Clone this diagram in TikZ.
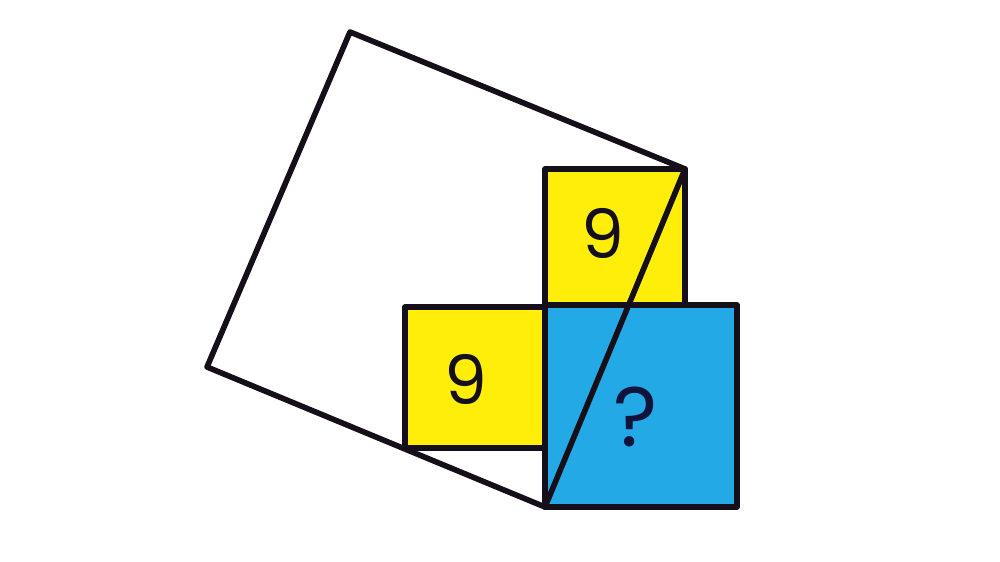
\documentclass[tikz,border=0pt]{standalone}
\usepackage{fontspec}
\setmainfont{Poppins}
\definecolor{yel}{RGB}{255,238,10}
\definecolor{blu}{RGB}{35,170,230}
\definecolor{ink}{RGB}{20,15,25}
\definecolor{qink}{RGB}{15,20,60}
\tikzset{
  edge/.style={draw=ink,line width=4.8pt,line join=round,line cap=round},
  lbl/.style={font=\fontsize{58}{58}\selectfont,text=ink},
  qlbl/.style={font=\fontsize{72}{72}\selectfont,text=qink}
}
\begin{document}
\begin{tikzpicture}[x=0.03cm,y=-0.03cm]
\useasboundingbox (0,0) rectangle (1000,562);
\fill[white] (0,0) rectangle (1000,562);
% corners of big square
\coordinate (T) at (350,32);
\coordinate (R) at (685,169);
\coordinate (B) at (545,507);
\coordinate (L) at (207,367);
% fills
\fill[yel] (545,169) rectangle (685,305);
\fill[yel] (405,307) rectangle (545,448);
\fill[blu] (545,305) rectangle (737,507);
% outlines
\draw[edge] (545,305) -- (545,169) -- (R) -- (685,305);
\draw[edge] (405,448) -- (405,307) -- (545,307);
\draw[edge] (405,448) -- (545,448);
\draw[edge] (545,305) rectangle (737,507);
\draw[edge] (T) -- (R) -- (B) -- (L) -- cycle;
% labels
\node[lbl] (n1) at (603,233) {9};
\node[lbl] (n2) at (466,379) {9};
\node[qlbl] (q) at (636,417) {?};
\end{tikzpicture}
\end{document}
